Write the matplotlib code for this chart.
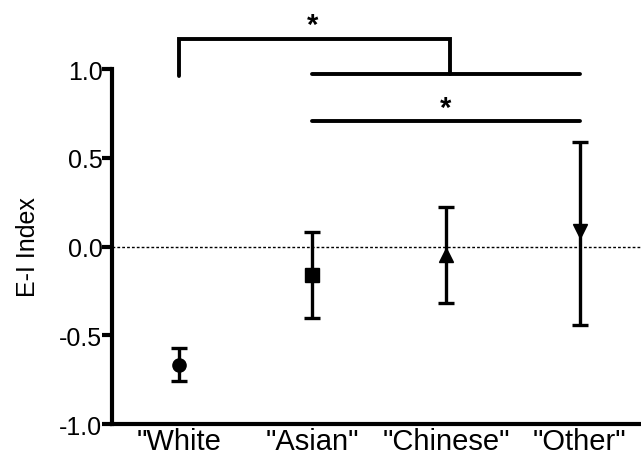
import matplotlib
matplotlib.use("Agg")
import matplotlib.pyplot as plt

categories = ['"White', '"Asian"', '"Chinese"', '"Other"']
means = [-0.67, -0.16, -0.05, 0.09]
upper = [-0.57, 0.08, 0.22, 0.59]
lower = [-0.76, -0.40, -0.32, -0.44]
markers = ["o", "s", "^", "v"]

plt.rcParams["font.family"] = ["Liberation Sans", "DejaVu Sans"]

fig = plt.figure(figsize=(6.41, 4.64), dpi=100)
ax = fig.add_axes([0.175, 0.084, 0.825, 0.765])

xs = list(range(len(categories)))
for x, m, u, l, mk in zip(xs, means, upper, lower, markers):
    ax.errorbar([x], [m], yerr=[[m - l], [u - m]], fmt=mk, color="black",
                ms=9.5, capsize=6, capthick=2.4, elinewidth=2.4, clip_on=False, zorder=3)

ax.axhline(0, color="black", lw=1, ls=(0, (2, 1.5)), zorder=1)

ax.set_xlim(-0.5, 3.46)
ax.set_ylim(-1.0, 1.0)
ax.set_yticks([-1.0, -0.5, 0.0, 0.5, 1.0])
ax.set_yticklabels(["-1.0", "-0.5", "0.0", "0.5", "1.0"])
ax.set_xticks(xs)
ax.set_xticklabels(categories)
ax.tick_params(axis="y", length=7, width=3, labelsize=18, pad=0)
ax.tick_params(axis="x", length=0, labelsize=21, pad=2)
for s in ["top", "right"]:
    ax.spines[s].set_visible(False)
for s in ["left", "bottom"]:
    ax.spines[s].set_linewidth(3)
ax.set_ylabel("E-I Index", fontsize=18, labelpad=14)

# significance brackets
lw = 2.8
ax.plot([1, 3], [0.97, 0.97], color="black", lw=lw, clip_on=False, solid_capstyle="round")
ax.plot([0, 0, 2.03, 2.03], [0.96, 1.17, 1.17, 0.97], color="black", lw=lw,
        clip_on=False, solid_capstyle="round", solid_joinstyle="miter")
ax.text(1.0, 1.17, "*", ha="center", va="bottom", fontsize=21, fontweight="bold")
ax.plot([1, 3], [0.71, 0.71], color="black", lw=lw, clip_on=False, solid_capstyle="round")
ax.text(2.0, 0.70, "*", ha="center", va="bottom", fontsize=21, fontweight="bold")

fig.savefig("out.png", dpi=100)
